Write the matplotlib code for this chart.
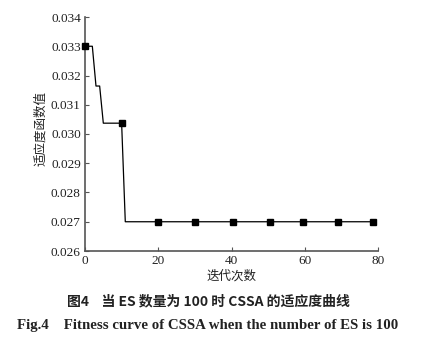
import matplotlib.pyplot as plt

# curve (step-like descent) and marker positions
iters = [0, 2, 3, 4, 5, 10, 11, 78.5]
fitness = [0.0330, 0.0330, 0.03164, 0.03164, 0.03037, 0.03037, 0.0270, 0.0270]
mark_x = [0, 10, 20, 30, 40.5, 50.5, 59.5, 69, 78.5]
mark_y = [0.0330, 0.03037, 0.0270, 0.0270, 0.0270, 0.0270, 0.0270, 0.0270, 0.0270]
xticks = [0, 20, 40, 60, 80]
yticks = [0.026, 0.027, 0.028, 0.029, 0.030, 0.031, 0.032, 0.033, 0.034]

serif = ['Liberation Serif', 'DejaVu Serif']
cjk = ['Noto Sans CJK SC', 'DejaVu Sans']

fig = plt.figure(figsize=(4.21, 3.46), dpi=100)
ax = fig.add_axes([85/421, 1-251/346, (378-85)/421, (251-17)/346])

ax.plot(iters, fitness, color='black', lw=0.9)
ax.plot(mark_x, mark_y, ls='none', marker='s', ms=5, color='black', clip_on=False, zorder=5)

ax.set_xlim(0, 80)
ax.set_ylim(0.026, 0.034)
ax.set_xticks(xticks)
ax.set_yticks(yticks)
ax.set_xticklabels([str(t) for t in xticks], family=serif, fontsize=9.5, color='#222222')
ax.set_yticklabels(['%.3f' % t for t in yticks], family=serif, fontsize=9.5, color='#222222')
ax.tick_params(direction='in', length=3, width=0.8, color='#555555', pad=3)
for s in ['top', 'right']:
    ax.spines[s].set_visible(False)
for s in ['left', 'bottom']:
    ax.spines[s].set_linewidth(1.2)
    ax.spines[s].set_color('#555555')

fig.text(41/421, 1-128/346, '适应度函数值', rotation=90, ha='center', va='center',
         family=cjk, fontsize=9, color='#222222')
fig.text(231/421, 1-276/346, '迭代次数', ha='center', va='center',
         family=cjk, fontsize=9, color='#222222')
fig.text(208/421, 1-301/346, '图4    当 ES 数量为 100 时 CSSA 的适应度曲线', ha='center', va='center',
         family=cjk, fontsize=10, fontweight='bold', color='#222222')
fig.text(208/421, 1-326/346, 'Fig.4    Fitness curve of CSSA when the number of ES is 100',
         ha='center', va='center', family=serif, fontsize=10.7, fontweight='bold', color='#222222')

fig.savefig('out.png', dpi=100)
